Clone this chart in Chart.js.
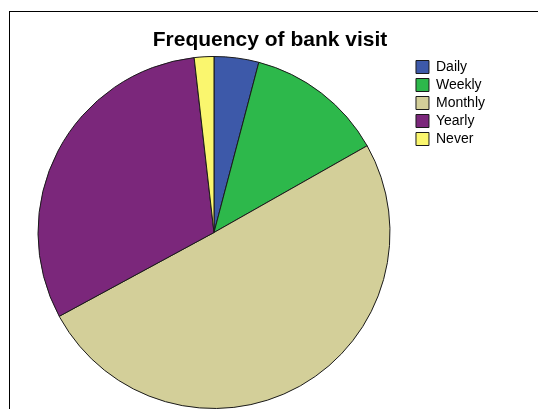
<!DOCTYPE html>
<html>
<head>
<meta charset="utf-8">
<script src="https://cdn.jsdelivr.net/npm/chart.js@4"></script>
<style>
  html, body { margin: 0; padding: 0; background: #ffffff; overflow: hidden; }
  #wrap { position: relative; width: 538px; height: 409px; }
  #frame { position: absolute; left: 9px; top: 11px; width: 600px; height: 500px; border: 1px solid #000; }
  #chart { position: absolute; left: 0; top: 0; }
  #titulo {
    position: absolute; left: 70px; width: 400px; top: 27px;
    text-align: center; font: bold 21px/24px 'Liberation Sans', Arial, sans-serif; color: #000;
  }
</style>
</head>
<body>
<div id="wrap">
  <div id="frame"></div>
  <canvas id="chart" width="538" height="409"></canvas>
  <div id="titulo">Frequency of bank visit</div>
</div>
<script>
// Datos del gráfico
const categorias = ['Daily', 'Weekly', 'Monthly', 'Yearly', 'Never'];
const porcentajes = [4.1, 12.7, 50.3, 31.1, 1.8];
const colores = ['#3d59a9', '#2db84b', '#d3cf99', '#7b277b', '#faf66e'];

const ctx = document.getElementById('chart').getContext('2d');
new Chart(ctx, {
    type: 'pie',
    data: {
        labels: categorias,
        datasets: [{
            data: porcentajes,
            backgroundColor: colores,
            borderColor: '#1a1a1a',
            borderWidth: 1
        }]
    },
    options: {
        responsive: false,
        animation: false,
        layout: { padding: { left: 16, right: 43, top: 56, bottom: 0 } },
        plugins: {
            title: { display: false },
            legend: {
                position: 'right',
                align: 'start',
                fullSize: false,
                labels: {
                    boxWidth: 13,
                    boxHeight: 13,
                    padding: 4,
                    color: '#000',
                    font: { family: 'Liberation Sans', size: 14 }
                }
            },
            tooltip: { enabled: false }
        }
    }
});
</script>
</body>
</html>
